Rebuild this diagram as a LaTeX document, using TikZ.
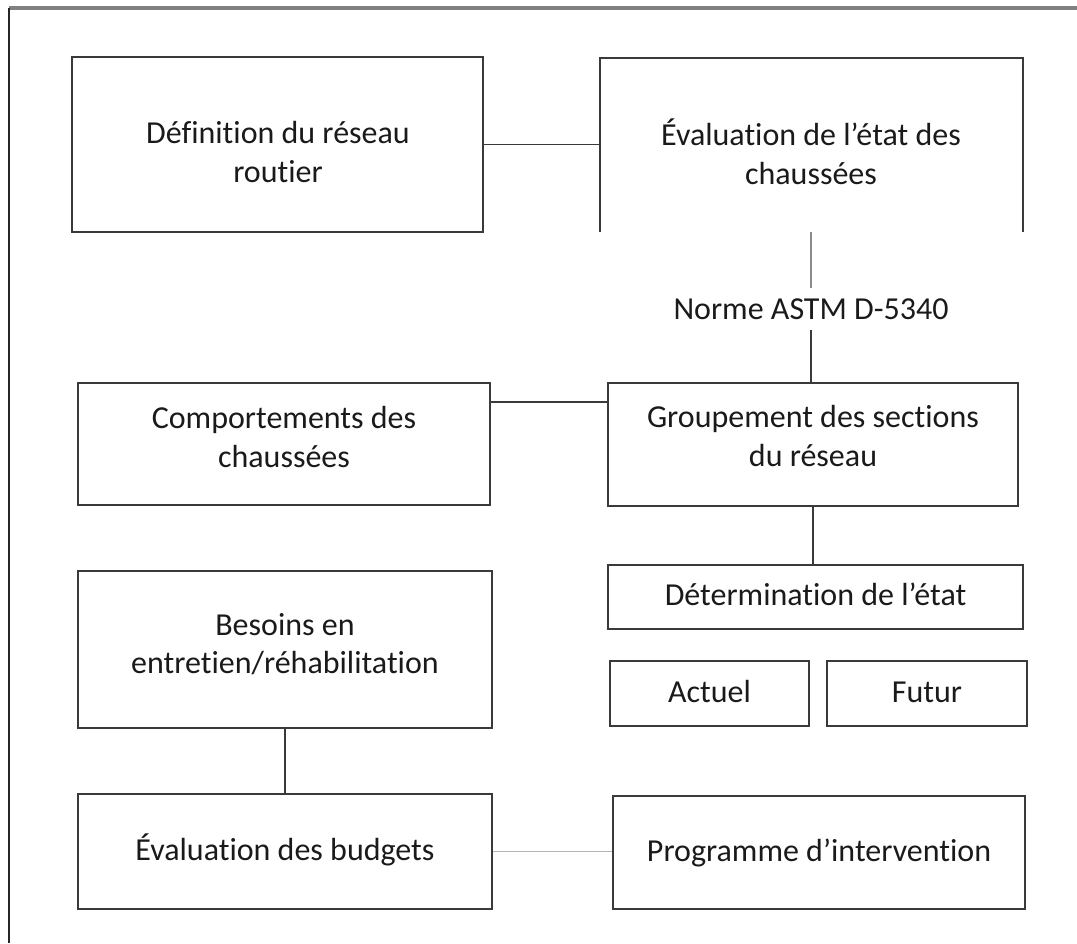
\documentclass[tikz,border=0pt]{standalone}
\usepackage{fontspec}
\setmainfont{Carlito}[Ligatures=NoCommon]
\usetikzlibrary{fit,calc}
\definecolor{boxline}{HTML}{3A3A3A}
\definecolor{textcol}{HTML}{1A1A1A}
\definecolor{softline}{HTML}{8A8A8A}
\definecolor{paleline}{HTML}{B4B4B4}
\begin{document}
\begin{tikzpicture}[x=0.75pt,y=-0.75pt,
  frame/.style={draw=boxline, line width=1.3pt, inner sep=0pt},
  txt/.style={font=\fontsize{24}{29}\selectfont, align=center, text=textcol, inner sep=0pt},
  oneline/.style={txt, text height=0.64em, text depth=0em, yshift=-3.5pt},
  link/.style={draw=boxline, line width=1.2pt},
  softlink/.style={draw=softline, line width=1pt},
  palelink/.style={draw=paleline, line width=1pt}]
\useasboundingbox (0,0) rectangle (1077,943);

% page frame: top and left rules
\draw[draw=gray, line width=2.6pt] (9,8) -- (1077,8);
\draw[draw=black!85, line width=1.5pt] (9,8) -- (9,943);

% boxes
\node[frame, fit={(72,57) (483,232)}] (A) {};
\node[inner sep=0pt, fit={(600,58) (1023,232)}] (B) {};
\draw[frame] (B.south west) -- (B.north west) -- (B.north east) -- (B.south east);
\node[frame, fit={(78,383) (490,505)}] (C) {};
\node[frame, fit={(608,383) (1018,506)}] (G) {};
\node[frame, fit={(608,565) (1023,629)}] (D) {};
\node[frame, fit={(610,661) (809,726)}] (act) {};
\node[frame, fit={(827,661) (1027,726)}] (fut) {};
\node[frame, fit={(78,571) (492,728)}] (E) {};
\node[frame, fit={(78,794) (492,909)}] (F) {};
\node[frame, fit={(613,796) (1025,909)}] (P) {};

% captions
\node[txt] (tA) at (278,152) {Définition du réseau\\routier};
\node[txt] (tB) at (811,152) {Évaluation de l’état des\\chaussées};
\node[txt] (tC) at (284,437) {Comportements des\\chaussées};
\node[txt] (tG) at (813,436) {Groupement des sections\\du réseau};
\node[oneline] (tD) at (D.center) {Détermination de l’état};
\node[oneline] (tact) at (act.center) {Actuel};
\node[oneline] (tfut) at (fut.center) {Futur};
\node[txt] (tE) at (285,644) {Besoins en\\entretien/réhabilitation};
\node[oneline] (tF) at (F.center) {Évaluation des budgets};
\node[oneline] (tP) at (P.center) {Programme d’intervention};

% standard reference
\node[txt, minimum height={42*0.75pt}] (norme) at (811,309) {Norme ASTM D-5340};

% connectors
\draw[link] (A.east) -- (A.east -| B.west);
\draw[softlink] (norme.north |- B.south) -- (norme.north);
\draw[link] (norme.south) -- (norme.south |- G.north);
\draw[link] ($(C.north east)+(0,20)$) -- ($(G.north west)+(0,20)$);
\draw[link] (G.south) -- (G.south |- D.north);
\draw[link] (E.south) -- (F.north);
\draw[palelink] (F.east) -- (F.east -| P.west);
\end{tikzpicture}
\end{document}
